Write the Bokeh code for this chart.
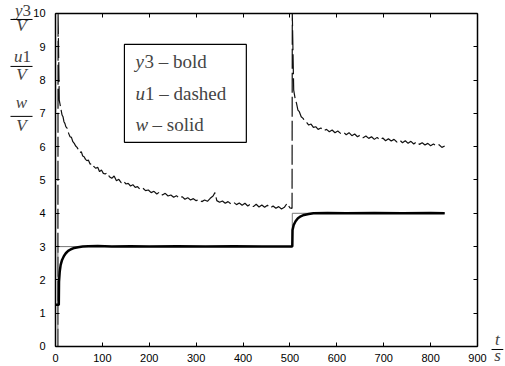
from bokeh.plotting import figure
from bokeh.models import (Range1d, SingleIntervalTicker, LinearAxis, Label, Arrow,
                          BoxAnnotation, ColumnDataSource)
from bokeh.embed import file_html
from bokeh.resources import INLINE

# ---------------- data ----------------
x_ticks = [0, 100, 200, 300, 400, 500, 600, 700, 800, 900]
y_ticks = [0, 1, 2, 3, 4, 5, 6, 7, 8, 9, 10]

# u1 (dashed) – control signal (spikes saturate at the top of the box, 10)
t_u1 = [0, 5, 5.5, 8, 10, 12, 14, 16, 18, 20, 22, 25, 28, 31, 34, 37, 40, 43, 46, 49,
        52, 55, 58, 61, 64, 67, 70, 74, 78, 82, 86, 90, 94, 98, 102, 106, 110, 115, 120,
        125, 130, 135, 140, 145, 150, 155, 160, 165, 170, 175, 180, 186, 192, 198, 204,
        210, 216, 222, 228, 234, 240, 246, 252, 258, 264, 270, 276, 282, 288, 294, 300,
        306, 312, 318, 324, 330, 336, 340, 344, 350, 356, 362, 368, 374, 380, 386, 392,
        398, 404, 410, 416, 422, 428, 434, 440, 446, 452, 458, 464, 470, 476, 482, 488,
        494, 500, 504.5, 505, 508, 511, 514, 517, 520, 524, 528, 532, 536, 540, 545, 550,
        555, 560, 566, 572, 578, 584, 590, 596, 602, 608, 614, 620, 626, 632, 638, 644,
        650, 656, 662, 668, 674, 680, 686, 692, 698, 704, 710, 716, 722, 728, 734, 740,
        746, 752, 758, 764, 770, 776, 782, 788, 794, 800, 806, 812, 818, 824, 830]
u1 = [0, 0, 10, 7.4, 7.25, 7.1, 6.95, 6.9, 6.75, 6.7, 6.6, 6.55, 6.4, 6.3, 6.28, 6.15,
      6.1, 6.02, 5.98, 5.9, 5.82, 5.85, 5.72, 5.7, 5.62, 5.58, 5.6, 5.47, 5.5, 5.4, 5.35,
      5.38, 5.25, 5.3, 5.2, 5.18, 5.22, 5.1, 5.05, 5.12, 4.98, 5.02, 4.92, 4.97, 4.88,
      4.9, 4.82, 4.86, 4.78, 4.8, 4.72, 4.76, 4.68, 4.7, 4.62, 4.66, 4.58, 4.64, 4.55,
      4.6, 4.52, 4.55, 4.48, 4.53, 4.45, 4.5, 4.42, 4.47, 4.4, 4.44, 4.38, 4.42, 4.35,
      4.4, 4.36, 4.45, 4.52, 4.62, 4.38, 4.33, 4.37, 4.3, 4.35, 4.28, 4.33, 4.26, 4.31,
      4.24, 4.3, 4.22, 4.28, 4.2, 4.27, 4.19, 4.25, 4.18, 4.24, 4.16, 4.22, 4.15, 4.2,
      4.13, 4.18, 4.3, 4.16, 4.15, 10, 7.7, 7.45, 7.3, 7.1, 7.05, 6.9, 6.85, 6.75, 6.72,
      6.65, 6.68, 6.58, 6.6, 6.52, 6.56, 6.48, 6.52, 6.45, 6.5, 6.42, 6.47, 6.4, 6.44,
      6.36, 6.42, 6.33, 6.38, 6.3, 6.35, 6.27, 6.32, 6.25, 6.3, 6.22, 6.28, 6.2, 6.26,
      6.18, 6.24, 6.17, 6.22, 6.14, 6.2, 6.12, 6.18, 6.1, 6.16, 6.08, 6.15, 6.07, 6.12,
      6.05, 6.1, 6.03, 6.08, 6.02, 6.06, 5.98, 6.02]

# y3 (bold) – controlled output
t_y3 = [0, 7, 7.5, 9, 11, 14, 18, 22, 27, 33, 40, 48, 58, 70, 90, 120, 160, 200, 260,
        320, 380, 440, 505, 505.5, 508, 512, 517, 523, 530, 540, 550, 580, 620, 680, 740,
        800, 830]
y3 = [1.25, 1.25, 1.95, 2.25, 2.45, 2.6, 2.72, 2.8, 2.87, 2.92, 2.96, 2.98, 3.0, 3.01,
      3.02, 3.0, 3.01, 3.0, 3.01, 3.0, 3.01, 3.0, 3.0, 3.5, 3.65, 3.76, 3.85, 3.91, 3.95,
      3.98, 4.0, 4.01, 4.0, 4.01, 4.0, 4.01, 4.0]

# w (solid) – set point
t_w = [0, 5, 5, 505, 505, 830]
w = [0, 0, 3, 3, 4, 4]

# ---------------- figure ----------------
# The frame fills the whole canvas; the axes are pinned at the box edges.
p = figure(width=505, height=366, output_backend="svg", toolbar_location=None,
           x_range=Range1d(-117.3, 959.7), y_range=Range1d(-0.6006, 10.39),
           x_axis_location=None, y_axis_location=None,
           min_border=0, min_border_left=0, min_border_right=0,
           min_border_top=0, min_border_bottom=0)
p.grid.visible = False
p.outline_line_color = None
p.background_fill_color = "white"
p.border_fill_color = "white"

FONT = "Liberation Sans"
SERIF = "Liberation Serif"


def make_axis(loc, fixed, bounds, interval, labels):
    ax = LinearAxis(fixed_location=fixed, bounds=bounds,
                    ticker=SingleIntervalTicker(interval=interval),
                    major_tick_in=4, major_tick_out=0,
                    minor_tick_line_color=None,
                    axis_line_color="black", axis_line_width=1.5,
                    major_tick_line_color="black", major_tick_line_width=1)
    if labels:
        ax.major_label_text_font = FONT
        ax.major_label_text_font_size = "11px"
        ax.major_label_text_color = "black"
    else:
        ax.major_label_text_color = None
        ax.major_label_standoff = 0
    p.add_layout(ax, loc)
    return ax


xb = make_axis("below", 0, (0, 900), 100, True)
xb.major_label_standoff = 4
yl = make_axis("left", 0, (0, 10), 1, True)
yl.major_label_standoff = 6
make_axis("above", 10, (0, 900), 100, False)
make_axis("right", 900, (0, 10), 1, False)

src_u = ColumnDataSource(dict(t=t_u1, v=u1))
src_w = ColumnDataSource(dict(t=t_w, v=w))
src_y = ColumnDataSource(dict(t=t_y3, v=y3))
p.line("t", "v", source=src_u, line_color="#111111", line_width=1.2, line_dash="20 4")
p.line("t", "v", source=src_w, line_color="#777777", line_width=1)
p.line("t", "v", source=src_y, line_color="black", line_width=2.5)

# ---------------- legend box ----------------
p.add_layout(BoxAnnotation(left=147, right=407, top=9.07, bottom=6.13,
                           fill_color="white", fill_alpha=1,
                           line_color="black", line_alpha=1, line_width=1.2))
LEG_UP = 7   # px correction so the alphabetic baseline lands where intended
leg = [("y", "3 \u2013 bold", 8.35, 9),
       ("u", "1 \u2013 dashed", 7.39, 9.5),
       ("w", "\u2013 solid", 6.46, 17)]
for var, rest, yy, off in leg:
    p.add_layout(Label(x=170.6, y=yy, y_offset=LEG_UP, text=var, text_font=SERIF,
                       text_font_size="19px", text_font_style="italic",
                       text_baseline="alphabetic"))
    p.add_layout(Label(x=170.6, y=yy, x_offset=off, y_offset=LEG_UP, text=rest,
                       text_font=SERIF, text_font_size="19px",
                       text_baseline="alphabetic"))

# ---------------- axis-label fractions ----------------
UP = 6
xc = -72.5
fracs = [("y", "3", 9.9, 9.82, 9.46),
         ("u", "1", 8.53, 8.41, 7.99),
         ("w", "", 7.15, 6.91, 6.46)]
for a, b, ynum, ybar, yden in fracs:
    if b:
        p.add_layout(Label(x=xc, y=ynum, x_offset=1, y_offset=UP, text=a,
                           text_font=SERIF, text_font_size="17px",
                           text_font_style="italic", text_align="right",
                           text_baseline="alphabetic"))
        p.add_layout(Label(x=xc, y=ynum, x_offset=1, y_offset=UP, text=b,
                           text_font=SERIF, text_font_size="17px", text_align="left",
                           text_baseline="alphabetic"))
    else:
        p.add_layout(Label(x=xc, y=ynum, y_offset=UP, text=a, text_font=SERIF,
                           text_font_size="17px", text_font_style="italic",
                           text_align="center", text_baseline="alphabetic"))
    p.add_layout(Arrow(end=None, x_start=-96, x_end=-49, y_start=ybar,
                       y_end=ybar, line_color="black", line_width=1))
    p.add_layout(Label(x=xc, y=yden, y_offset=UP, text="V", text_font=SERIF,
                       text_font_size="17px", text_font_style="italic",
                       text_align="center", text_baseline="alphabetic"))

# t / s right of the x axis
xs = 942.6
p.add_layout(Label(x=xs, y=0.03, y_offset=UP, text="t", text_font=SERIF,
                   text_font_size="17px", text_font_style="italic",
                   text_align="center", text_baseline="alphabetic"))
p.add_layout(Arrow(end=None, x_start=930, x_end=955, y_start=-0.09,
                   y_end=-0.09, line_color="black", line_width=1))
p.add_layout(Label(x=xs, y=-0.45, y_offset=UP, text="s", text_font=SERIF,
                   text_font_size="17px", text_font_style="italic",
                   text_align="center", text_baseline="alphabetic"))

open("out.html", "w").write(file_html(p, INLINE))
